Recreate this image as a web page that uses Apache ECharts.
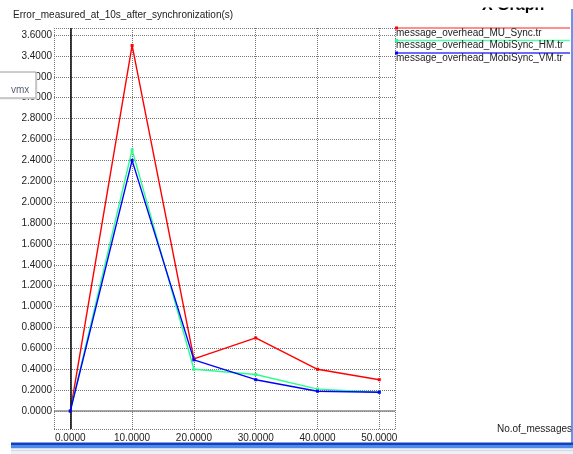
<!DOCTYPE html>
<html><head><meta charset="utf-8">
<script src="https://cdn.jsdelivr.net/npm/echarts@6/dist/echarts.min.js"></script>
<style>html,body{margin:0;padding:0;background:#fff;overflow:hidden}#c{width:573px;height:454px;}</style>
</head><body><div id="c"></div>
<script>
const xValues = [0, 10, 20, 30, 40, 50];
const muSync = [0, 3.5, 0.5, 0.7, 0.4, 0.3];
const mobiHM = [0, 2.5, 0.4, 0.35, 0.21, 0.18];
const mobiVM = [0, 2.4, 0.49, 0.3, 0.19, 0.18];
const seriesNames = ['message_overhead_MU_Sync.tr', 'message_overhead_MobiSync_HM.tr', 'message_overhead_MobiSync_VM.tr'];
const xTicks = [0, 10, 20, 30, 40, 50];
const yTicks = [0, 0.2, 0.4, 0.6, 0.8, 1.0, 1.2, 1.4, 1.6, 1.8, 2.0, 2.2, 2.4, 2.6, 2.8, 3.0, 3.2, 3.4, 3.6];
const chartTitle = 'Error_measured_at_10s_after_synchronization(s)';
const xAxisTitle = 'No.of_messages';
const windowTitle = 'X Graph';
const popupText = 'vmx';

const colors = ['#ff0000', '#2bff8a', '#0000ff'];
const legendLineColors = ['#ff6a6a', '#55ffa5', '#3a3aff'];
const FONT = '"Liberation Sans", Arial, sans-serif';
const X_MIN = -2.64, X_MAX = 52.54, Y_MIN = -0.172, Y_MAX = 3.667;

const seriesData = [muSync, mobiHM, mobiVM];
const gridDash = [1, 1];

const chart = echarts.init(document.getElementById('c'), null, {renderer: 'canvas'});

const graphics = [];
// window title (clipped at top)
graphics.push({type: 'text', x: 482, y: 14, z: 5, style: {text: windowTitle, font: 'bold 16px ' + FONT, fill: '#000', textVerticalAlign: 'bottom'}});
graphics.push({type: 'rect', shape: {x: 0, y: 0, width: 573, height: 7.5}, z: 6, style: {fill: '#fff'}});
// chart title
graphics.push({type: 'text', x: 13, y: 15, z: 5, style: {text: chartTitle, font: '10px ' + FONT, fill: '#222', textVerticalAlign: 'middle'}});
// legend
const legY = [28, 40.5, 53];
seriesNames.forEach((n, i) => {
  graphics.push({type: 'line', shape: {x1: 396, y1: legY[i], x2: 570, y2: legY[i]}, z: 5, style: {stroke: legendLineColors[i], lineWidth: 1.5}});
  graphics.push({type: 'rect', shape: {x: 395, y: legY[i] - 1.5, width: 3, height: 3}, z: 5, style: {fill: colors[i]}});
  graphics.push({type: 'text', x: 396, y: legY[i] + 5, z: 5, style: {text: n, font: '10px ' + FONT, fill: '#222', textVerticalAlign: 'middle'}});
});
// x axis title
graphics.push({type: 'text', x: 572, y: 429, z: 5, style: {text: xAxisTitle, font: '10px ' + FONT, fill: '#222', textAlign: 'right', textVerticalAlign: 'middle'}});
// right blue frame line
graphics.push({type: 'line', shape: {x1: 572, y1: 9, x2: 572, y2: 443}, z: 5, style: {stroke: '#3a6ee8', lineWidth: 1.5}});
// bottom blue bar
graphics.push({type: 'rect', shape: {x: 11, y: 442.5, width: 562, height: 2.5}, z: 5, style: {fill: '#1240c0'}});
graphics.push({type: 'rect', shape: {x: 11, y: 445, width: 562, height: 3.5}, z: 5, style: {fill: '#4f8be6'}});
graphics.push({type: 'rect', shape: {x: 11, y: 448.5, width: 562, height: 6}, z: 5, style: {fill: '#eef0f4'}});
graphics.push({type: 'line', shape: {x1: 11, y1: 450.5, x2: 573, y2: 450.5}, z: 5, style: {stroke: '#d4d8e0', lineWidth: 1}});
// popup box
graphics.push({type: 'rect', shape: {x: -5, y: 72, width: 41, height: 26}, z: 20, style: {fill: '#fff', stroke: '#9a9a9a', lineWidth: 1}});
graphics.push({type: 'line', shape: {x1: 36.5, y1: 73, x2: 36.5, y2: 99}, z: 20, style: {stroke: '#c8c8c8', lineWidth: 1.5}});
graphics.push({type: 'line', shape: {x1: -5, y1: 98.5, x2: 37, y2: 98.5}, z: 20, style: {stroke: '#c8c8c8', lineWidth: 1.5}});
graphics.push({type: 'text', x: 11, y: 90, z: 21, style: {text: popupText, font: '10px ' + FONT, fill: '#5a6478', textVerticalAlign: 'middle'}});

const lineSeries = seriesNames.map((n, i) => ({
  name: n,
  type: 'line',
  data: xValues.map((x, j) => [x, seriesData[i][j]]),
  symbol: 'rect',
  symbolSize: 3,
  showSymbol: true,
  itemStyle: {color: colors[i]},
  lineStyle: {color: colors[i], width: 1.4},
  z: 3 + i,
  animation: false
}));

const option = {
  animation: false,
  backgroundColor: '#fff',
  grid: {left: 54, right: 178, top: 28, bottom: 25, containLabel: false},
  xAxis: {
    type: 'value', min: X_MIN, max: X_MAX,
    axisLine: {show: false},
    axisTick: {show: false, customValues: [X_MIN].concat(xTicks, [X_MAX])},
    axisLabel: {customValues: xTicks, formatter: v => v.toFixed(4), fontFamily: FONT, fontSize: 10, color: '#222', margin: 4},
    splitLine: {show: true, lineStyle: {color: '#777', width: 1, type: gridDash}}
  },
  yAxis: {
    type: 'value', min: Y_MIN, max: Y_MAX,
    axisLine: {show: false},
    axisTick: {show: false, customValues: [Y_MIN].concat(yTicks, [Y_MAX])},
    axisLabel: {customValues: yTicks, formatter: v => v.toFixed(4), fontFamily: FONT, fontSize: 10, color: '#222', margin: 2},
    splitLine: {show: true, lineStyle: {color: '#777', width: 1, type: gridDash}}
  },
  series: [{
    type: 'line', data: [], silent: true, z: 2,
    markLine: {
      silent: true, symbol: 'none', animation: false, label: {show: false},
      data: [
        {xAxis: 0, lineStyle: {color: '#000', width: 1.5, type: 'solid'}},
        {yAxis: 0, lineStyle: {color: '#8a8a8a', width: 1.5, type: 'solid'}}
      ]
    }
  }].concat(lineSeries),
  graphic: graphics
};
chart.setOption(option);
</script></body></html>
